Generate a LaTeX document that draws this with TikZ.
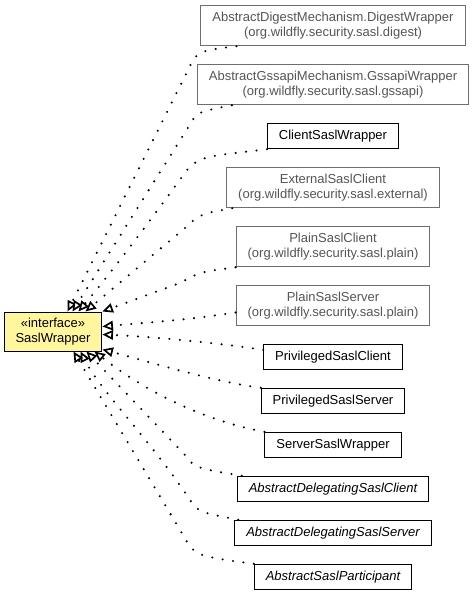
\documentclass[tikz,border=0pt]{standalone}
\usepackage{fontspec}
\setmainfont{Liberation Sans}
\usepackage{xcolor}
\usepackage{tikz}
\usetikzlibrary{arrows.meta,positioning}

\begin{document}
\begin{tikzpicture}[x=1pt,y=-1pt,node distance=17.5pt]
    \definecolor{myyellow}{RGB}{255,246,157}
    \definecolor{mygrayd}{RGB}{110,110,110}
    \definecolor{mygrayt}{RGB}{85,85,85}

    \fontsize{13}{15}\selectfont  % 字体大小
    \tikzstyle{format}=[rectangle,draw,line width=1pt,fill=white,inner xsep=11.5pt,inner ysep=2pt,minimum height=25.5pt]  % 普通类
    \tikzstyle{outer}=[format,draw=mygrayd,text=mygrayt,align=center,minimum height=40.5pt]  % 其他包中的类
    \tikzstyle{abstract}=[format,font=\itshape]  % 抽象类
    \tikzstyle{iface}=[format,fill=myyellow,align=center,minimum width=96pt,minimum height=39pt]  % 接口
    \tikzstyle{impl}=[line width=2.3pt,line cap=round,dash pattern=on 0pt off 10.5pt,-{Triangle[length=10.5pt,width=9.5pt,fill=white,line width=1.7pt]}]  % 实现关系

    \useasboundingbox (0,0) rectangle (475,595);

    % 定义note
    \node[outer](digest) at (333,25.5){AbstractDigestMechanism.DigestWrapper\\(org.wildfly.security.sasl.digest)};
    \node[outer,below=of digest](gssapi){AbstractGssapiMechanism.GssapiWrapper\\(org.wildfly.security.sasl.gssapi)};
    \node[format,below=of gssapi](client){ClientSaslWrapper};
    \node[outer,below=of client](external){ExternalSaslClient\\(org.wildfly.security.sasl.external)};
    \node[outer,below=of external](plainclient){PlainSaslClient\\(org.wildfly.security.sasl.plain)};
    \node[outer,below=of plainclient](plainserver){PlainSaslServer\\(org.wildfly.security.sasl.plain)};
    \node[format,below=of plainserver](privclient){PrivilegedSaslClient};
    \node[format,below=of privclient](privserver){PrivilegedSaslServer};
    \node[format,below=of privserver](serverwrap){ServerSaslWrapper};
    \node[abstract,below=of serverwrap](delclient){AbstractDelegatingSaslClient};
    \node[abstract,below=of delclient](delserver){AbstractDelegatingSaslServer};
    \node[abstract,below=of delserver](participant){AbstractSaslParticipant};
    \node[iface](sasl) at (53,331.5){«interface»\\SaslWrapper};

    % 开始画线
    \draw[impl]([xshift=36pt]digest.south west) .. controls (197,51) .. (187,72) -- ([xshift=-35pt]sasl.north east);
    \draw[impl]([xshift=35pt]gssapi.south west) .. controls (197,112) .. (189,126) -- ([xshift=-30pt]sasl.north east);
    \draw[impl](client.south west) .. controls (200,157) .. (187,170) .. controls (165,200) and (120,262) .. ([xshift=-24pt]sasl.north east);
    \draw[impl]([xshift=6pt]external.south west) .. controls (200,214) .. (185,228) -- ([xshift=-17pt]sasl.north east);
    \draw[impl](plainclient.south west) .. controls (200,272) .. (180,283) -- (sasl.north east);
    \draw[impl]([yshift=-7pt]plainserver.west) .. controls (190,319) .. ([yshift=5pt]sasl.east);
    \draw[impl]([yshift=7pt]privclient.west) .. controls (235,345) and (160,337) .. ([yshift=-3pt]sasl.east);
    \draw[impl](privserver.north west) .. controls (215,382) and (150,362) .. ([yshift=2pt]sasl.south east);
    \draw[impl](serverwrap.north west) .. controls (210,422) and (150,395) .. ([xshift=-8pt]sasl.south east);
    \draw[impl]([xshift=5pt]delclient.north west) .. controls (195,468) .. (185,455) -- ([xshift=-16pt]sasl.south east);
    \draw[impl]([xshift=4pt]delserver.north west) .. controls (198,512) .. (188,497) .. controls (150,440) and (100,390) .. ([xshift=-22pt]sasl.south east);
    \draw[impl](participant.north west) .. controls (195,556) .. (183,535) -- ([xshift=-29pt]sasl.south east);
\end{tikzpicture}
\end{document}
